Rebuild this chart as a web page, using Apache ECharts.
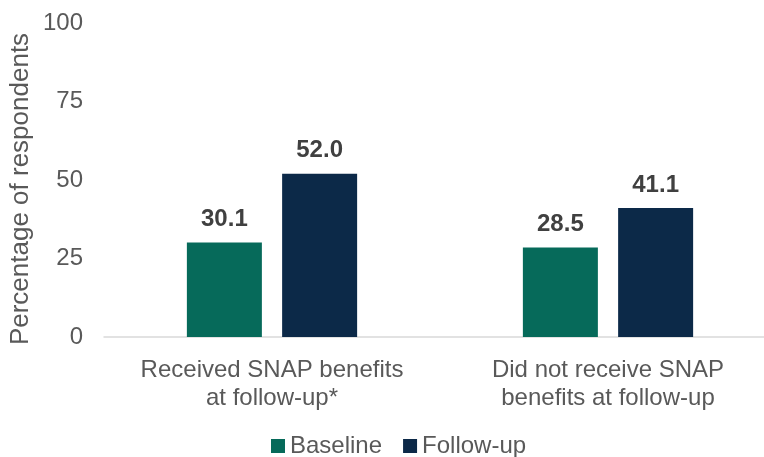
<!DOCTYPE html>
<html>
<head>
<meta charset="utf-8">
<script src="https://cdn.jsdelivr.net/npm/echarts@6/dist/echarts.min.js"></script>
<style>html,body{margin:0;padding:0;background:#fff;overflow:hidden}#c{width:776px;height:457px}</style>
</head>
<body>
<div id="c"></div>
<script>
var categories = ["Received SNAP benefits\nat follow-up*", "Did not receive SNAP\nbenefits at follow-up"];
var baseline = [30.1, 28.5];
var followUp = [52.0, 41.1];
var seriesNames = ["Baseline", "Follow-up"];
var yTicks = [0, 25, 50, 75, 100];
var yTitle = "Percentage of respondents";

var FONT = "'Liberation Sans', Arial, sans-serif";
var chart = echarts.init(document.getElementById('c'), null, {renderer: 'canvas'});
var labelStyle = {
  show: true, position: 'top', distance: 11,
  fontFamily: FONT, fontSize: 24, fontWeight: 'bold', color: '#404040',
  formatter: function (p) { return p.value.toFixed(1); }
};
chart.setOption({
  animation: false,
  textStyle: {fontFamily: FONT},
  grid: {left: 104, top: 23, bottom: 120, right: 0, containLabel: false},
  legend: {
    data: seriesNames, left: 266, top: 429, icon: 'rect',
    itemWidth: 14, itemHeight: 14, itemGap: 21,
    textStyle: {fontFamily: FONT, fontSize: 24, color: '#595959'}
  },
  xAxis: {
    type: 'category', data: categories,
    axisLine: {lineStyle: {color: '#d9d9d9', width: 1.5}},
    axisTick: {show: false},
    axisLabel: {interval: 0, hideOverlap: false, fontFamily: FONT, fontSize: 24, color: '#595959', lineHeight: 28, margin: 19}
  },
  yAxis: {
    type: 'value', min: yTicks[0], max: yTicks[yTicks.length - 1], interval: 25,
    axisLine: {show: false}, axisTick: {show: false},
    splitLine: {show: false},
    axisLabel: {fontFamily: FONT, fontSize: 24, color: '#595959', margin: 21}
  },
  graphic: [{
    type: 'text', x: 21, y: 189, rotation: Math.PI / 2,
    style: {text: yTitle, fontFamily: FONT, fontSize: 26, fill: '#595959', align: 'center', verticalAlign: 'middle'}
  }],
  series: [
    {name: seriesNames[0], type: 'bar', data: baseline, barWidth: 75, barGap: '27%',
     itemStyle: {color: '#066a5a'}, label: labelStyle},
    {name: seriesNames[1], type: 'bar', data: followUp, barWidth: 75, barGap: '27%',
     itemStyle: {color: '#0c2948'}, label: labelStyle}
  ]
});
</script>
</body>
</html>
